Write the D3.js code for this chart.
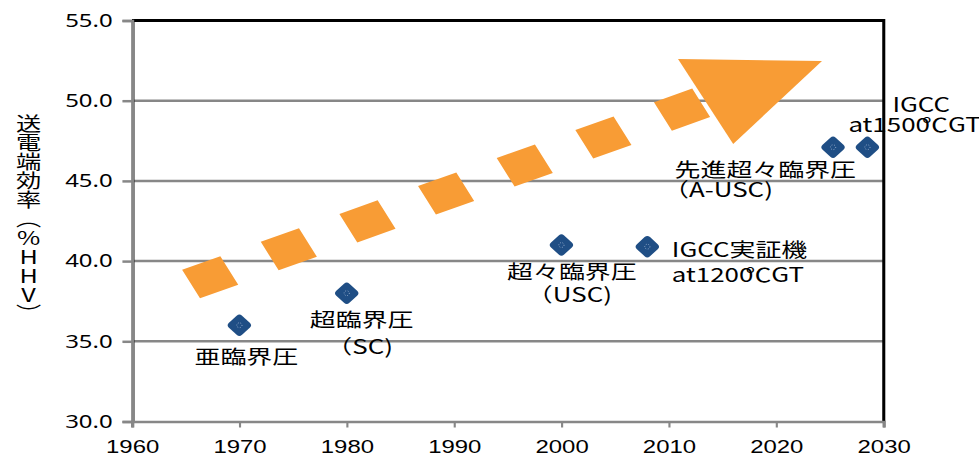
<!DOCTYPE html>
<html><head><meta charset="utf-8">
<script src="https://cdn.jsdelivr.net/npm/d3@7"></script>
<style>
html,body{margin:0;padding:0;background:#fff;}
svg{display:block;}
</style></head>
<body>
<svg id="chart"></svg>
<script>
// ---- data ----
const years = [1970, 1980, 2000, 2008, 2025.3, 2028.5];
const efficiency = [36.0, 38.0, 41.0, 40.9, 47.1, 47.1];
const labelLines = [
  ["亜臨界圧"],
  ["超臨界圧", "（SC)"],
  ["超々臨界圧", "（USC)"],
  ["IGCC実証機", "at1200℃GT"],
  ["先進超々臨界圧", "（A-USC)"],
  ["IGCC", "at1500℃GT"]
];
const xTicks = [1960, 1970, 1980, 1990, 2000, 2010, 2020, 2030];
const yTicks = [30, 35, 40, 45, 50, 55];
const yTitle = "送電端効率（%HHV）";
// trend arrow (data coordinates): shaft start/end, head tip and base corners
const arrowShaft = [[1965.5, 38.57], [2013.37, 49.95]];
const arrowHead = [[2024.27, 52.47], [2010.86, 52.60], [2016.0, 47.30]];

// ---- layout ----
const W = 979, H = 463, S = 1.33;   // horizontal stretch of the original picture
const VW = W / S;
const svg = d3.select("#chart").attr("width", W).attr("height", H)
  .attr("viewBox", `0 0 ${VW} ${H}`).attr("preserveAspectRatio", "none");

const x = d3.scaleLinear().domain([1960, 2030]).range([132 / S, 883.5 / S]);
const y = d3.scaleLinear().domain([30, 55]).range([421.5, 20.5]);
const x0 = x.range()[0], x1 = x.range()[1];

const gray = "#878787", orange = "#F89C35", navy = "#1F4E85";

// gridlines
svg.append("g").selectAll("line").data(yTicks.filter(d => d > 30 && d < 55)).join("line")
  .attr("x1", x0).attr("x2", x1).attr("y1", d => y(d)).attr("y2", d => y(d))
  .attr("stroke", gray).attr("stroke-width", 2.5);

// plot border top / right (black)
svg.append("line").attr("x1", x0).attr("x2", x1 + 1.1).attr("y1", y(55)).attr("y2", y(55))
  .attr("stroke", "#000").attr("stroke-width", 3);
svg.append("line").attr("x1", x1 + 0.2).attr("x2", x1 + 0.2).attr("y1", y(55) - 1.5).attr("y2", y(30))
  .attr("stroke", "#000").attr("stroke-width", 2.3);
svg.append("line").attr("x1", x0 + 1.3).attr("x2", x0 + 1.3).attr("y1", y(55)).attr("y2", y(30))
  .attr("stroke", "#000").attr("stroke-width", 1.1);

// axes
const yAxis = d3.axisLeft(y).tickValues(yTicks).tickFormat(d3.format(".1f"))
  .tickSize(7.2).tickPadding(7.4);
const gy = svg.append("g").attr("transform", `translate(${x0},0)`).call(yAxis);
gy.select(".domain").attr("stroke", gray).attr("stroke-width", 2.3);
gy.selectAll(".tick line").attr("stroke", gray).attr("stroke-width", 2.5);
gy.selectAll(".tick text").attr("font-family", "'Noto Sans', 'DejaVu Sans', sans-serif")
  .attr("font-size", 18).attr("fill", "#000");

const xAxis = d3.axisBottom(x).tickValues(xTicks).tickFormat(d3.format("d"))
  .tickSize(6).tickPadding(12.5);
const gx = svg.append("g").attr("transform", `translate(0,${y(30)})`).call(xAxis);
gx.select(".domain").attr("stroke", gray).attr("stroke-width", 2.5);
gx.selectAll(".tick line").attr("stroke", gray).attr("stroke-width", 1.6);
gx.selectAll(".tick text").attr("font-family", "'Liberation Sans', Arial, sans-serif")
  .attr("font-size", 18).attr("fill", "#000");

// y title (vertical)
svg.append("text")
  .attr("x", 21.5).attr("y", 114)
  .style("writing-mode", "vertical-rl").style("text-orientation", "upright")
  .attr("font-family", "'Noto Sans CJK JP', sans-serif").attr("font-size", 19)
  .attr("fill", "#000").text(yTitle);

// trend arrow
svg.append("path")
  .attr("d", d3.line()(arrowShaft.map(p => [x(p[0]), y(p[1])])))
  .attr("stroke", orange).attr("stroke-width", 31.5).attr("fill", "none")
  .attr("stroke-dasharray", "31.8 33.6");
svg.append("path")
  .attr("d", d3.line()(arrowHead.map(p => [x(p[0]), y(p[1])])) + "Z")
  .attr("fill", orange);

// markers
const pts = years.map((d, i) => ({ yr: d, v: efficiency[i], lines: labelLines[i] }));
const mk = svg.append("g").selectAll("g").data(pts).join("g")
  .attr("transform", d => `translate(${x(d.yr)},${y(d.v)}) scale(0.82,1)`);
mk.append("rect").attr("x", -8.5).attr("y", -8.5).attr("width", 17).attr("height", 17)
  .attr("rx", 3.5).attr("transform", "rotate(45)").attr("fill", navy);
mk.append("circle").attr("r", 2.4).attr("fill", "none").attr("stroke", "#c9d6ea")
  .attr("stroke-width", 0.7).attr("stroke-dasharray", "0.8 1.6");

// labels: offsets in screen px relative to each marker [dx, dy] per line, anchor
const labelCfg = [
  { anchor: "middle", off: [[7, 38.7]] },
  { anchor: "middle", off: [[15, 34.3], [13, 61]] },
  { anchor: "middle", off: [[10.5, 34], [8, 57]] },
  { anchor: "start", off: [[24.5, 10.8], [24.5, 35.3]] },
  { anchor: "start", off: [[-158.5, 30.1], [-170, 49.6]] },
  { anchor: "start", off: [[25, -35.4], [-19, -15.4]] }
];
const lg = svg.append("g").attr("font-family", "'Noto Sans CJK JP', sans-serif")
  .attr("font-size", 19.5).attr("fill", "#000");
pts.forEach((p, i) => {
  const cfg = labelCfg[i];
  p.lines.forEach((t, j) => {
    const tx = lg.append("text")
      .attr("x", x(p.yr) + cfg.off[j][0] / S)
      .attr("y", y(p.v) + cfg.off[j][1])
      .attr("text-anchor", cfg.anchor);
    const k = t.indexOf("℃");
    if (k < 0) { tx.text(t); }
    else {
      // the degree sign sits tight against the preceding digit, as in the original
      tx.append("tspan").text(t.slice(0, k));
      tx.append("tspan").attr("dx", -6).text(t.slice(k));
    }
  });
});
</script>
</body></html>
